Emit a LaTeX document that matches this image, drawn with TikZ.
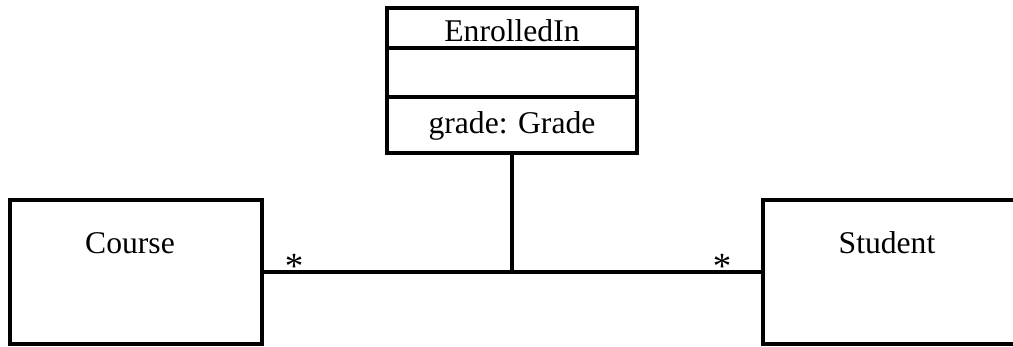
\documentclass[tikz,border=0pt]{standalone}
\usepackage{fontspec}
\setmainfont{Liberation Serif}
\usetikzlibrary{positioning}

\tikzset{
  classbox/.style={draw, line width=1.8pt, minimum width=5.04cm, minimum height=2.88cm, inner sep=0pt},
  txt/.style={font=\fontsize{18}{20}\selectfont, inner sep=0pt},
  mult/.style={font=\fontsize{21}{22}\selectfont, inner sep=0pt},
}

\begin{document}
\begin{tikzpicture}[x=0.02cm, y=-0.02cm, line width=1.8pt]
 \clip (0,0) rectangle (1013,346);
%	classes
 \node[classbox] (course) at (136,272) {};
 \node[classbox] (student) at (889,272) {};
 \node[classbox, minimum width=5cm, minimum height=2.9cm] (enrolled) at (512,80.5) {};
%	compartments of the association class
 \coordinate (sep1) at (385,48);
 \coordinate (sep2) at (385,97);
 \draw (sep1) -- (sep1 -| enrolled.east)
		(sep2) -- (sep2 -| enrolled.east);
%	names
 \node[txt] (coursename) at (130,243) {Course};
 \node[txt] (studentname) at (887,243) {Student};
 \node[txt] (enrolledname) at (512,31) {EnrolledIn};
 \node[txt] (gradeattr) at (512,126) {grade: Grade};
%	association
 \coordinate (mid) at (enrolled.south |- course.east);
 \draw (course.east) -- (student.west)
		(enrolled.south) -- (mid);
 \node[mult] (cstar) at (294,266) {*};
 \node[mult] (sstar) at (722,266) {*};
\end{tikzpicture}
\end{document}
